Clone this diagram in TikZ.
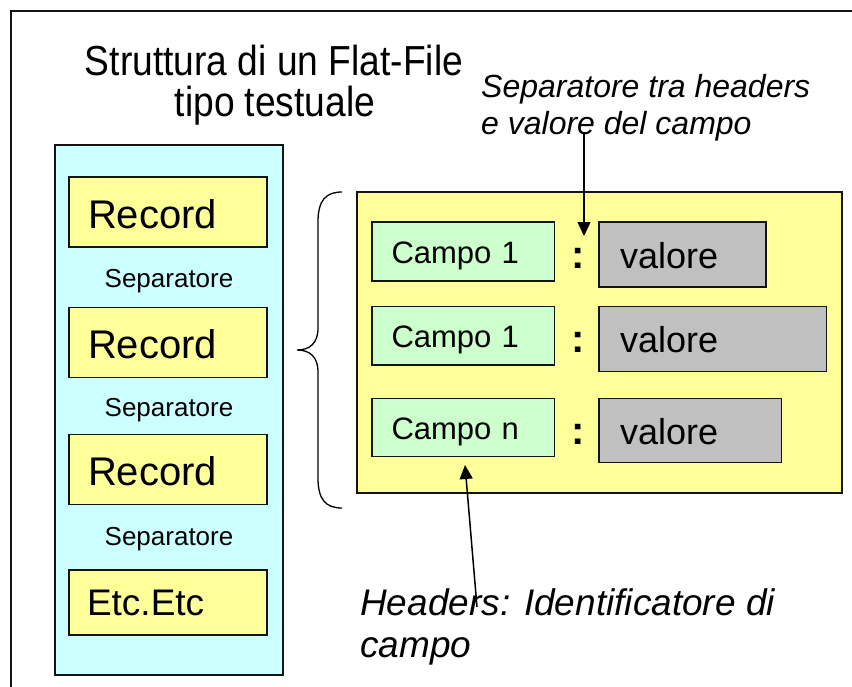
\documentclass[tikz,border=0pt]{standalone}
\usepackage{fontspec}
\setmainfont{Liberation Sans}
\newfontfamily\titlefont[FakeStretch=0.885]{Liberation Sans}
\usetikzlibrary{arrows.meta}

\definecolor{panelblue}{HTML}{CCFFFF}
\definecolor{paleyellow}{HTML}{FFFF99}
\definecolor{palegreen}{HTML}{CCFFCC}
\definecolor{valgray}{HTML}{C0C0C0}
\definecolor{edge}{HTML}{141414}

\newcommand{\fsz}[1]{\fontsize{#1}{#1}\selectfont}

\tikzset{
  box/.style={draw=edge, line width=1.5pt, rectangle, inner ysep=0pt, align=left},
  recbox/.style={box, fill=paleyellow, minimum width=198pt, minimum height=70pt,
    text width=160pt, inner xsep=19pt, text height=32pt, text depth=0pt, font=\fsz{40}},
  etcbox/.style={box, fill=paleyellow, minimum width=198pt, minimum height=65pt,
    text width=162pt, inner xsep=18pt, text height=25pt, text depth=0pt, font=\fsz{37}},
  fieldbox/.style={box, fill=palegreen, minimum width=182.4pt,
    text width=143.4pt, inner xsep=19.5pt, text height=23pt, text depth=0pt, font=\fsz{31}},
  valbox/.style={box, fill=valgray, inner xsep=21pt,
    text height=27pt, text depth=0pt, font=\fsz{36}},
  sepword/.style={anchor=base, inner sep=0pt, font=\fsz{26}},
  colon/.style={anchor=base, inner sep=0pt, font=\fsz{40}\bfseries},
  bigtitle/.style={anchor=base, inner sep=0pt, font=\titlefont\fsz{42}},
  note/.style={anchor=base west, inner sep=0pt, font=\itshape},
  pointer/.style={draw=black, line width=1.5pt, -{Triangle[length=14pt, width=13pt]}},
}

\begin{document}
\begin{tikzpicture}[x=1pt, y=-1pt]
  \path[use as bounding box, clip] (0,0) rectangle (852,686);
  \fill[white] (0,0) rectangle (852,686);

  % slide frame, running off the right and bottom edges
  \draw[edge, line width=2pt] (10.5,700) -- (10.5,10.5) -- (870,10.5);

  % title
  \node[bigtitle] (title1) at (274,75) {Struttura di un Flat-File};
  \node[bigtitle] (title2) at (275,116.5) {tipo testuale};

  % the file: records divided by separators
  \node[box, fill=panelblue, minimum width=228pt, minimum height=530pt] (file) at (169,410) {};
  \node[recbox] (rec1) at (168,212) {Record};
  \node[sepword] (sep1) at (169,287) {Separatore};
  \node[recbox] (rec2) at (168,342.5) {Record};
  \node[sepword] (sep2) at (169,416) {Separatore};
  \node[recbox] (rec3) at (168,469.5) {Record};
  \node[sepword] (sep3) at (169,545) {Separatore};
  \node[etcbox] (etc) at (168,602.5) {Etc.Etc};

  % brace opening one record
  \coordinate (braceTop) at (342,192);
  \coordinate (braceTip) at (297,350);
  \coordinate (braceBot) at (342,508);
  \draw[black, line width=1.3pt]
    (braceTop) .. controls (326,192) and (318,200) .. (318,222)
    -- (318,328) .. controls (318,343) and (310,350) .. (braceTip)
    .. controls (310,350) and (318,357) .. (318,372)
    -- (318,478) .. controls (318,500) and (326,508) .. (braceBot);

  % one record: header : value pairs
  \node[box, fill=paleyellow, minimum width=485pt, minimum height=301pt] (record) at (599.5,342.5) {};

  \node[fieldbox, minimum height=59pt] (hdr1) at (463.2,251.5) {Campo 1};
  \node[fieldbox, minimum height=58.3pt] (hdr2) at (463.2,335.8) {Campo 1};
  \node[fieldbox, minimum height=58.4pt] (hdr3) at (463.2,427.5) {Campo n};

  \node[colon] (col1) at (578,268) {:};
  \node[colon] (col2) at (578,352.7) {:};
  \node[colon] (col3) at (578,444) {:};

  \node[valbox, minimum width=167pt, text width=125pt, minimum height=65pt] (val1) at (682.5,254.5) {valore};
  \node[valbox, minimum width=227.5pt, text width=185.5pt, minimum height=65pt] (val2) at (712.75,339.2) {valore};
  \node[valbox, minimum width=182.6pt, text width=140.6pt, minimum height=64.4pt] (val3) at (690.3,430.5) {valore};

  % annotations
  \node[note, font=\fsz{32}\itshape] (sepnote1) at (481,97) {Separatore tra headers};
  \node[note, font=\fsz{32}\itshape] (sepnote2) at (481,134) {e valore del campo};
  \node[note, font=\fsz{37}\itshape] (hdrnote1) at (360,615) {Headers: Identificatore di};
  \node[note, font=\fsz{37}\itshape] (hdrnote2) at (360,657) {campo};

  \coordinate (sepTail) at (584,132);
  \coordinate (sepTip) at (584,236);
  \draw[pointer] (sepTail) -- (sepTip);

  \coordinate (hdrTail) at (477,607);
  \coordinate (hdrTip) at (465,465);
  \draw[pointer] (hdrTail) -- (hdrTip);
\end{tikzpicture}
\end{document}
